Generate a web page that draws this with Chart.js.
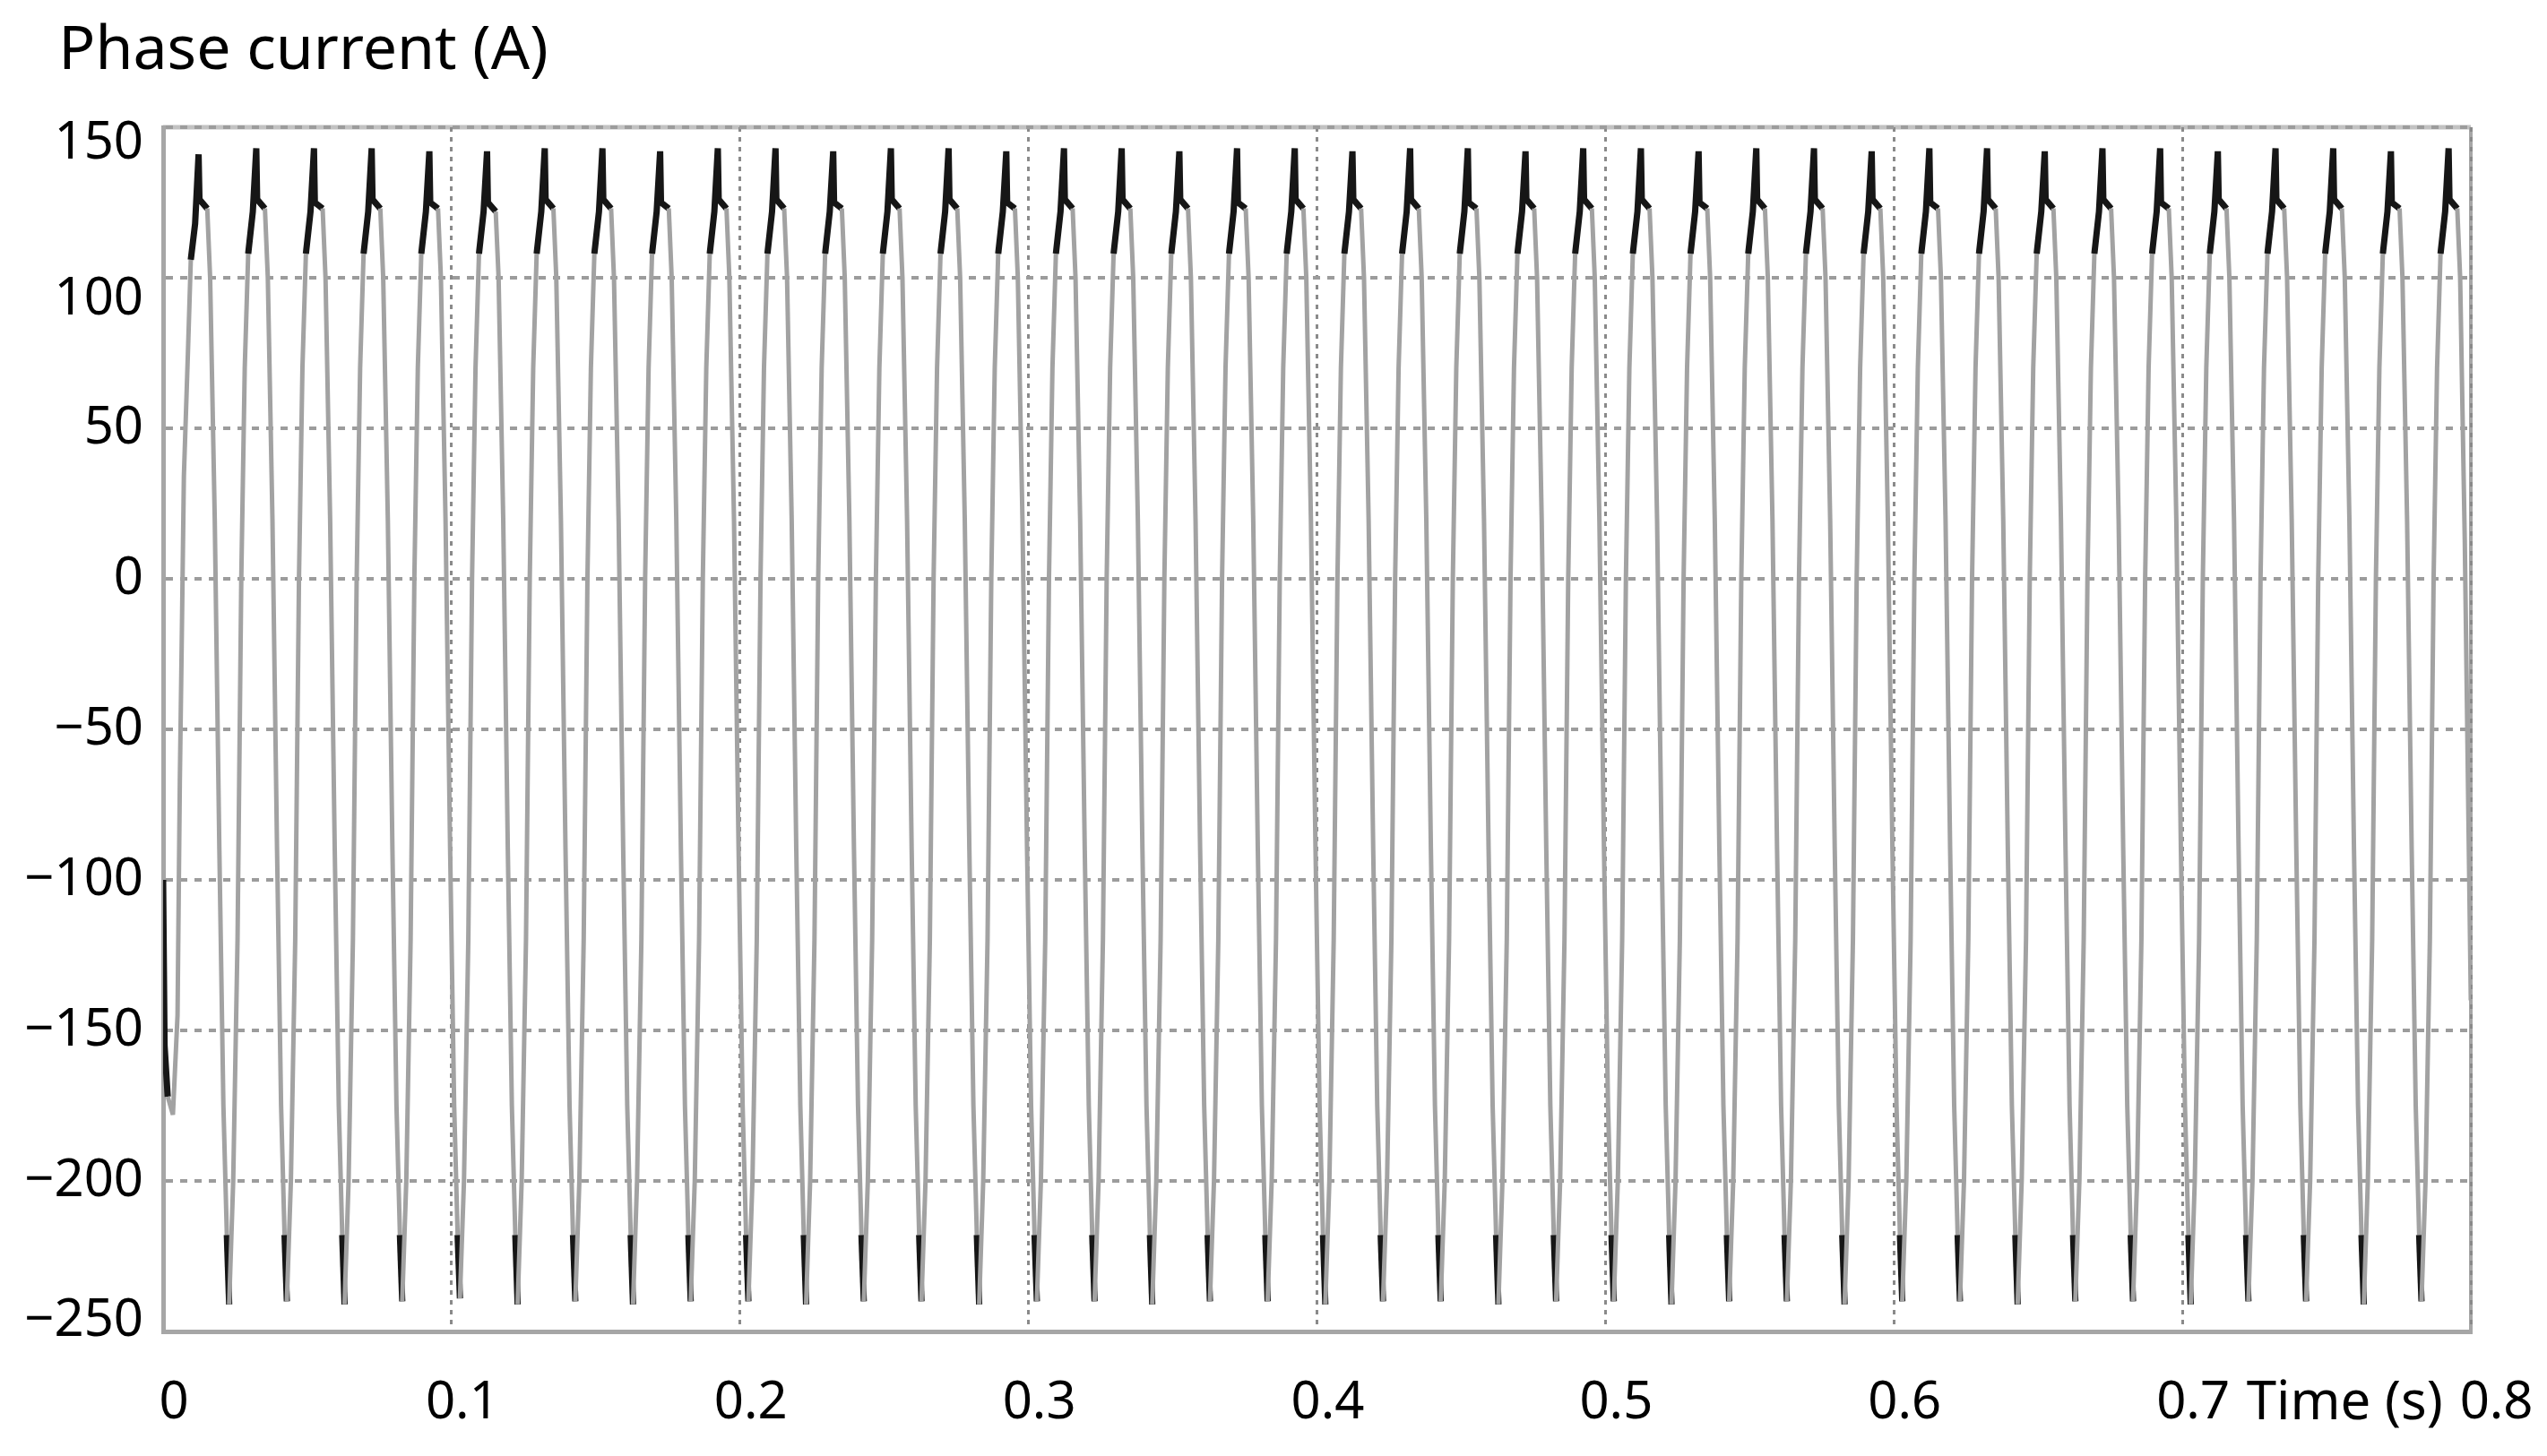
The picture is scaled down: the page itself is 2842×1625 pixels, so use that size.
<!DOCTYPE html>
<html>
<head>
<meta charset="utf-8">
<script src="https://cdn.jsdelivr.net/npm/chart.js@4.4.1/dist/chart.umd.min.js"></script>
<style>
  html, body { margin: 0; padding: 0; background: #ffffff; }
  #wrap { width: 2842px; height: 1625px; position: relative; }
</style>
</head>
<body>
<div id="wrap"><canvas id="c"></canvas></div>
<script>
// ---------------- data ----------------
const chartTitle = 'Phase current (A)';
const xAxisTitle = 'Time (s)';

// x axis ticks: time in ms, labelled in seconds
const xTickValues = [0, 100, 200, 300, 400, 500, 600, 700, 800];
const xTickLabels = ['0', '0.1', '0.2', '0.3', '0.4', '0.5', '0.6', '0.7', '0.8'];

// y axis ticks (A)
const yTickValues = [-250, -200, -150, -100, -50, 0, 50, 100, 150];
const yTickLabels = ['\u2212250', '\u2212200', '\u2212150', '\u2212100', '\u221250', '0', '50', '100', '150'];

// sample times (ms), one row per electrical cycle
const timeMs = [
  0, 0.5, 1.6, 3.4, 5.0, 5.8, 6.5, 7.2, 8.6, 9.6, 11.1, 12.3, 12.6, 15.3, 16.3, 17.9, 19.5, 20.9, 22.1,
  22.9, 24.3, 25.8, 27.1, 28.3, 29.5, 31.1, 32.3, 32.6, 35.3, 36.3, 37.9, 39.5, 40.9, 42.1,
  42.9, 44.3, 45.8, 47.1, 48.3, 49.5, 51.1, 52.3, 52.6, 55.3, 56.3, 57.9, 59.5, 60.9, 62.1,
  62.9, 64.3, 65.8, 67.1, 68.3, 69.5, 71.1, 72.3, 72.6, 75.3, 76.3, 77.9, 79.5, 80.9, 82.1,
  82.9, 84.3, 85.8, 87.1, 88.3, 89.5, 91.1, 92.3, 92.6, 95.3, 96.3, 97.9, 99.5, 100.9, 102.1,
  102.9, 104.3, 105.8, 107.1, 108.3, 109.5, 111.1, 112.3, 112.6, 115.3, 116.3, 117.9, 119.5, 120.9, 122.1,
  122.9, 124.3, 125.8, 127.1, 128.3, 129.5, 131.1, 132.3, 132.6, 135.3, 136.3, 137.9, 139.5, 140.9, 142.1,
  142.9, 144.3, 145.8, 147.1, 148.3, 149.5, 151.1, 152.3, 152.6, 155.3, 156.3, 157.9, 159.5, 160.9, 162.1,
  162.9, 164.3, 165.8, 167.1, 168.3, 169.5, 171.1, 172.3, 172.6, 175.3, 176.3, 177.9, 179.5, 180.9, 182.1,
  182.9, 184.3, 185.8, 187.1, 188.3, 189.5, 191.1, 192.3, 192.6, 195.3, 196.3, 197.9, 199.5, 200.9, 202.1,
  202.9, 204.3, 205.8, 207.1, 208.3, 209.5, 211.1, 212.3, 212.6, 215.3, 216.3, 217.9, 219.5, 220.9, 222.1,
  222.9, 224.3, 225.8, 227.1, 228.3, 229.5, 231.1, 232.3, 232.6, 235.3, 236.3, 237.9, 239.5, 240.9, 242.1,
  242.9, 244.3, 245.8, 247.1, 248.3, 249.5, 251.1, 252.3, 252.6, 255.3, 256.3, 257.9, 259.5, 260.9, 262.1,
  262.9, 264.3, 265.8, 267.1, 268.3, 269.5, 271.1, 272.3, 272.6, 275.3, 276.3, 277.9, 279.5, 280.9, 282.1,
  282.9, 284.3, 285.8, 287.1, 288.3, 289.5, 291.1, 292.3, 292.6, 295.3, 296.3, 297.9, 299.5, 300.9, 302.1,
  302.9, 304.3, 305.8, 307.1, 308.3, 309.5, 311.1, 312.3, 312.6, 315.3, 316.3, 317.9, 319.5, 320.9, 322.1,
  322.9, 324.3, 325.8, 327.1, 328.3, 329.5, 331.1, 332.3, 332.6, 335.3, 336.3, 337.9, 339.5, 340.9, 342.1,
  342.9, 344.3, 345.8, 347.1, 348.3, 349.5, 351.1, 352.3, 352.6, 355.3, 356.3, 357.9, 359.5, 360.9, 362.1,
  362.9, 364.3, 365.8, 367.1, 368.3, 369.5, 371.1, 372.3, 372.6, 375.3, 376.3, 377.9, 379.5, 380.9, 382.1,
  382.9, 384.3, 385.8, 387.1, 388.3, 389.5, 391.1, 392.3, 392.6, 395.3, 396.3, 397.9, 399.5, 400.9, 402.1,
  402.9, 404.3, 405.8, 407.1, 408.3, 409.5, 411.1, 412.3, 412.6, 415.3, 416.3, 417.9, 419.5, 420.9, 422.1,
  422.9, 424.3, 425.8, 427.1, 428.3, 429.5, 431.1, 432.3, 432.6, 435.3, 436.3, 437.9, 439.5, 440.9, 442.1,
  442.9, 444.3, 445.8, 447.1, 448.3, 449.5, 451.1, 452.3, 452.6, 455.3, 456.3, 457.9, 459.5, 460.9, 462.1,
  462.9, 464.3, 465.8, 467.1, 468.3, 469.5, 471.1, 472.3, 472.6, 475.3, 476.3, 477.9, 479.5, 480.9, 482.1,
  482.9, 484.3, 485.8, 487.1, 488.3, 489.5, 491.1, 492.3, 492.6, 495.3, 496.3, 497.9, 499.5, 500.9, 502.1,
  502.9, 504.3, 505.8, 507.1, 508.3, 509.5, 511.1, 512.3, 512.6, 515.3, 516.3, 517.9, 519.5, 520.9, 522.1,
  522.9, 524.3, 525.8, 527.1, 528.3, 529.5, 531.1, 532.3, 532.6, 535.3, 536.3, 537.9, 539.5, 540.9, 542.1,
  542.9, 544.3, 545.8, 547.1, 548.3, 549.5, 551.1, 552.3, 552.6, 555.3, 556.3, 557.9, 559.5, 560.9, 562.1,
  562.9, 564.3, 565.8, 567.1, 568.3, 569.5, 571.1, 572.3, 572.6, 575.3, 576.3, 577.9, 579.5, 580.9, 582.1,
  582.9, 584.3, 585.8, 587.1, 588.3, 589.5, 591.1, 592.3, 592.6, 595.3, 596.3, 597.9, 599.5, 600.9, 602.1,
  602.9, 604.3, 605.8, 607.1, 608.3, 609.5, 611.1, 612.3, 612.6, 615.3, 616.3, 617.9, 619.5, 620.9, 622.1,
  622.9, 624.3, 625.8, 627.1, 628.3, 629.5, 631.1, 632.3, 632.6, 635.3, 636.3, 637.9, 639.5, 640.9, 642.1,
  642.9, 644.3, 645.8, 647.1, 648.3, 649.5, 651.1, 652.3, 652.6, 655.3, 656.3, 657.9, 659.5, 660.9, 662.1,
  662.9, 664.3, 665.8, 667.1, 668.3, 669.5, 671.1, 672.3, 672.6, 675.3, 676.3, 677.9, 679.5, 680.9, 682.1,
  682.9, 684.3, 685.8, 687.1, 688.3, 689.5, 691.1, 692.3, 692.6, 695.3, 696.3, 697.9, 699.5, 700.9, 702.1,
  702.9, 704.3, 705.8, 707.1, 708.3, 709.5, 711.1, 712.3, 712.6, 715.3, 716.3, 717.9, 719.5, 720.9, 722.1,
  722.9, 724.3, 725.8, 727.1, 728.3, 729.5, 731.1, 732.3, 732.6, 735.3, 736.3, 737.9, 739.5, 740.9, 742.1,
  742.9, 744.3, 745.8, 747.1, 748.3, 749.5, 751.1, 752.3, 752.6, 755.3, 756.3, 757.9, 759.5, 760.9, 762.1,
  762.9, 764.3, 765.8, 767.1, 768.3, 769.5, 771.1, 772.3, 772.6, 775.3, 776.3, 777.9, 779.5, 780.9, 782.1,
  782.9, 784.3, 785.8, 787.1, 788.3, 789.5, 791.1, 792.3, 792.6, 795.3, 796.3, 797.9, 800
];

// phase current (A), same layout as timeMs
const currentA = [
  -100, -155, -172, -178, -145, -67, -18, 34, 75, 106, 118, 141, 126, 123, 100, 20, -90, -175, -218,
  -241, -200, -120, 0, 70, 108, 122, 143, 126, 123, 100, 20, -90, -175, -218,
  -240, -200, -120, 0, 70, 108, 122, 143, 125, 123, 100, 20, -90, -175, -218,
  -241, -200, -120, 0, 70, 108, 122, 143, 126, 123, 100, 20, -90, -175, -218,
  -240, -200, -120, 0, 70, 108, 122, 142, 125, 123, 100, 20, -90, -175, -218,
  -239, -200, -120, 0, 70, 108, 122, 142, 125, 122, 100, 20, -90, -175, -218,
  -241, -200, -120, 0, 70, 108, 122, 143, 126, 123, 100, 20, -90, -175, -218,
  -240, -200, -120, 0, 70, 108, 122, 143, 126, 123, 100, 20, -90, -175, -218,
  -241, -200, -120, 0, 70, 108, 122, 142, 125, 123, 100, 20, -90, -175, -218,
  -240, -200, -120, 0, 70, 108, 122, 143, 126, 123, 100, 20, -90, -175, -218,
  -240, -200, -120, 0, 70, 108, 122, 143, 126, 123, 100, 20, -90, -175, -218,
  -241, -200, -120, 0, 70, 108, 122, 142, 125, 123, 100, 20, -90, -175, -218,
  -240, -200, -120, 0, 70, 108, 122, 143, 126, 123, 100, 20, -90, -175, -218,
  -240, -200, -120, 0, 70, 108, 122, 143, 126, 123, 100, 20, -90, -175, -218,
  -241, -200, -120, 0, 70, 108, 122, 142, 125, 123, 100, 20, -90, -175, -218,
  -240, -200, -120, 0, 70, 108, 122, 143, 126, 123, 100, 20, -90, -175, -218,
  -240, -200, -120, 0, 70, 108, 122, 143, 126, 123, 100, 20, -90, -175, -218,
  -241, -200, -120, 0, 70, 108, 122, 142, 126, 123, 100, 20, -90, -175, -218,
  -240, -200, -120, 0, 70, 108, 122, 143, 125, 123, 100, 20, -90, -175, -218,
  -240, -200, -120, 0, 70, 108, 122, 143, 126, 123, 100, 20, -90, -175, -218,
  -241, -200, -120, 0, 70, 108, 122, 142, 126, 123, 100, 20, -90, -175, -218,
  -240, -200, -120, 0, 70, 108, 122, 143, 126, 123, 100, 20, -90, -175, -218,
  -240, -200, -120, 0, 70, 108, 122, 143, 125, 123, 100, 20, -90, -175, -218,
  -241, -200, -120, 0, 70, 108, 122, 142, 126, 123, 100, 20, -90, -175, -218,
  -240, -200, -120, 0, 70, 108, 122, 143, 126, 123, 100, 20, -90, -175, -218,
  -240, -200, -120, 0, 70, 108, 122, 143, 126, 123, 100, 20, -90, -175, -218,
  -241, -200, -120, 0, 70, 108, 122, 142, 125, 123, 100, 20, -90, -175, -218,
  -240, -200, -120, 0, 70, 108, 122, 143, 126, 123, 100, 20, -90, -175, -218,
  -240, -200, -120, 0, 70, 108, 122, 143, 126, 123, 100, 20, -90, -175, -218,
  -241, -200, -120, 0, 70, 108, 122, 142, 126, 123, 100, 20, -90, -175, -218,
  -240, -200, -120, 0, 70, 108, 122, 143, 125, 123, 100, 20, -90, -175, -218,
  -240, -200, -120, 0, 70, 108, 122, 143, 126, 123, 100, 20, -90, -175, -218,
  -241, -200, -120, 0, 70, 108, 122, 142, 126, 123, 100, 20, -90, -175, -218,
  -240, -200, -120, 0, 70, 108, 122, 143, 126, 123, 100, 20, -90, -175, -218,
  -240, -200, -120, 0, 70, 108, 122, 143, 125, 123, 100, 20, -90, -175, -218,
  -241, -200, -120, 0, 70, 108, 122, 142, 126, 123, 100, 20, -90, -175, -218,
  -240, -200, -120, 0, 70, 108, 122, 143, 126, 123, 100, 20, -90, -175, -218,
  -240, -200, -120, 0, 70, 108, 122, 143, 126, 123, 100, 20, -90, -175, -218,
  -241, -200, -120, 0, 70, 108, 122, 142, 125, 123, 100, 20, -90, -175, -218,
  -240, -200, -120, 0, 70, 108, 122, 143, 126, 123, 100, 13, -140
];

// ---------------- styling ----------------
const FONT = 'Noto Sans';
const TICK_SIZE = 58;
const LINE_GREY = '#a2a2a2';
const LINE_DARK = '#161616';
const DARK_ABOVE = 105;   // ripple band near the positive peak
const DARK_BELOW = -210;  // ripple band near the negative peak
// vertical nudge (px) of a few y tick labels, as placed in the reference
const yLabelNudge = { '150': 18, '100': 24, '-250': -12 };

const points = timeMs.map((t, i) => ({ x: t, y: currentA[i] }));

const framePlugin = {
  id: 'frame',
  beforeDraw(chart) {
    const { ctx, chartArea: a } = chart;
    ctx.save();
    ctx.strokeStyle = '#c2c2c2';
    ctx.lineWidth = 5;
    ctx.beginPath();
    ctx.moveTo(a.left, a.top);
    ctx.lineTo(a.right, a.top);
    ctx.stroke();
    ctx.strokeStyle = '#a6a6a6';
    ctx.lineWidth = 4;
    ctx.beginPath();
    ctx.moveTo(a.right, a.top);
    ctx.lineTo(a.right, a.bottom);
    ctx.stroke();
    ctx.restore();
  }
};

const isDark = c => {
  const a = c.p0.parsed, b = c.p1.parsed;
  return (a.y >= DARK_ABOVE && b.y >= DARK_ABOVE) ||
         (a.y <= DARK_BELOW && b.y <= DARK_BELOW) ||
         (b.x <= 1.6);
};

new Chart(document.getElementById('c'), {
  type: 'line',
  data: {
    datasets: [{
      data: points,
      borderColor: LINE_GREY,
      borderWidth: 5,
      borderJoinStyle: 'bevel',
      pointRadius: 0,
      tension: 0,
      fill: false,
      segment: {
        borderColor: c => isDark(c) ? LINE_DARK : undefined,
        borderWidth: c => isDark(c) ? 7 : undefined
      }
    }]
  },
  options: {
    responsive: true,
    maintainAspectRatio: false,
    animation: false,
    events: [],
    layout: { padding: { left: 20, right: 85, top: 0, bottom: 0 } },
    plugins: {
      legend: { display: false },
      tooltip: { enabled: false },
      title: {
        display: true,
        text: '\u2002\u2009' + chartTitle,
        align: 'start',
        color: '#000',
        font: { family: FONT, size: 68, weight: 'normal', lineHeight: 1.2 },
        padding: { top: 17, bottom: 43.4 }
      }
    },
    scales: {
      x: {
        type: 'linear',
        min: 0,
        max: 800,
        afterFit: s => { s.height = 139; s.paddingLeft = 0; s.paddingRight = 0; },
        afterBuildTicks: s => { s.ticks = xTickValues.map(v => ({ value: v })); },
        ticks: {
          autoSkip: false,
          maxRotation: 0,
          padding: 46,
          labelOffset: 12,
          color: '#000',
          font: { family: FONT, size: TICK_SIZE },
          callback: v => {
            const lab = xTickLabels[xTickValues.indexOf(v)];
            return v === 800 ? '\u2007' + lab : lab;
          }
        },
        grid: { color: '#8a8a8a', lineWidth: 3, drawTicks: false },
        border: { display: true, color: '#a6a6a6', width: 5, dash: [5, 6] },
        title: {
          display: true,
          text: xAxisTitle + '\u00A0\u00A0',
          align: 'end',
          color: '#000',
          font: { family: FONT, size: 60, lineHeight: 1.2 },
          padding: { top: 0, bottom: 22 }
        }
      },
      y: {
        type: 'linear',
        min: -250,
        max: 150,
        afterFit: s => { s.width = 162; },
        afterBuildTicks: s => { s.ticks = yTickValues.map(v => ({ value: v })); },
        ticks: {
          padding: 22,
          color: '#000',
          font: c => {
            const n = yLabelNudge[String(c.tick && c.tick.value)];
            return n ? { family: FONT, size: TICK_SIZE, lineHeight: Math.abs(n) * 2 + 'px' }
                     : { family: FONT, size: TICK_SIZE };
          },
          callback: v => {
            const lab = yTickLabels[yTickValues.indexOf(v)];
            const n = yLabelNudge[String(v)];
            if (!n) return lab;
            return n > 0 ? ['', lab] : [lab, ''];
          }
        },
        grid: { color: '#9c9c9c', lineWidth: 4, drawTicks: false },
        border: { display: true, color: '#a6a6a6', width: 5, dash: [8, 8] }
      }
    }
  },
  plugins: [framePlugin]
});
</script>
</body>
</html>
